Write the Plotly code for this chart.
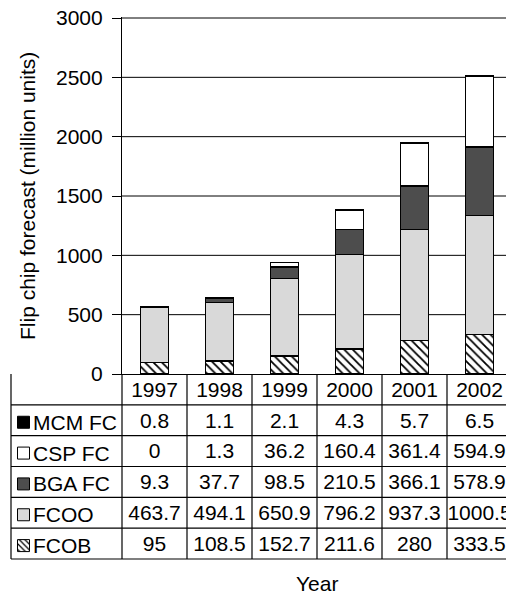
import plotly.graph_objects as go

# ---------------- data ----------------
years = [1997, 1998, 1999, 2000, 2001, 2002]
mcm_fc = [0.8, 1.1, 2.1, 4.3, 5.7, 6.5]
csp_fc = [0, 1.3, 36.2, 160.4, 361.4, 594.9]
bga_fc = [9.3, 37.7, 98.5, 210.5, 366.1, 578.9]
fcoo = [463.7, 494.1, 650.9, 796.2, 937.3, 1000.5]
fcob = [95, 108.5, 152.7, 211.6, 280, 333.5]
series_names = ["MCM FC", "CSP FC", "BGA FC", "FCOO", "FCOB"]  # table order
y_ticks = [0, 500, 1000, 1500, 2000, 2500, 3000]
y_title = "Flip chip forecast (million units)"
x_title = "Year"

data = {"MCM FC": mcm_fc, "CSP FC": csp_fc, "BGA FC": bga_fc, "FCOO": fcoo, "FCOB": fcob}
styles = {
    "FCOB": ("white", "\\"),
    "FCOO": ("#d9d9d9", ""),
    "BGA FC": ("#4d4d4d", ""),
    "CSP FC": ("white", ""),
    "MCM FC": ("black", ""),
}

# ---------------- geometry ----------------
W, H = 506, 595
FONT = "Liberation Sans, Arial, sans-serif"
FS = 21
CAT_PX = 65.0
AX_LEFT_PX = 122
BARGAP = 0.565
x_dom0 = AX_LEFT_PX / W
x_range = [years[0] - 0.5, years[0] - 0.5 + (W - AX_LEFT_PX) / CAT_PX]
ppu = (1 - x_dom0) / (x_range[1] - x_range[0])  # paper per unit
x2_range = [x_range[0] - x_dom0 / ppu, x_range[1]]


def px_to_x2(px):
    return x2_range[0] + (px / W) / ppu


PLOT_TOP, PLOT_BOT = 18, 374
TBL_BOT = 559
plot_px = PLOT_BOT - PLOT_TOP
y_max = y_ticks[-1] * (1 + 1.0 / plot_px)  # 1px headroom for top gridline
y_dom = [1 - PLOT_BOT / H, 1 - (PLOT_TOP - 1) / H]
row_px = (TBL_BOT - PLOT_BOT) / 6
pad = 0.1
# overlay axis y2 spans table + plot; rows are 0..6, plot values sit above 6
y2_dom = [1 - (TBL_BOT + pad * row_px) / H, 1 - (PLOT_TOP - 1) / H]
y2_range = [-pad, 6 + (plot_px + 1) / row_px]
txt_off = 2.0 / row_px


def val_to_y2(v):
    return 6 + (v / y_ticks[-1]) * plot_px / row_px


fig = go.Figure()

# ---------------- stacked bars ----------------
for name in ["FCOB", "FCOO", "BGA FC", "CSP FC", "MCM FC"]:
    color, pat = styles[name]
    marker = dict(color=color, line=dict(color="black", width=1.4))
    if pat:
        marker["pattern"] = dict(shape=pat, fgcolor="black", bgcolor="white",
                                 size=6, solidity=0.3)
    fig.add_trace(go.Bar(x=years, y=data[name], name=name, marker=marker,
                         xaxis="x", yaxis="y", showlegend=False))

# ---------------- horizontal gridlines, interrupted where a bar stands in front ----------------
totals = [sum(data[n][i] for n in series_names) for i in range(len(years))]
half_w = (1 - BARGAP) / 2
grid_style = dict(color="black", width=1)
for t in y_ticks[1:]:
    yv = val_to_y2(t)
    cur = x_range[0]
    for yr, tot in zip(years, totals):
        if tot >= t:
            fig.add_shape(type="line", xref="x2", yref="y2", x0=cur, x1=yr - half_w,
                          y0=yv, y1=yv, line=grid_style)
            cur = yr + half_w
    fig.add_shape(type="line", xref="x2", yref="y2", x0=cur, x1=x_range[1] + 1,
                  y0=yv, y1=yv, line=grid_style)

# ---------------- table text ----------------
tx, ty, tt = [], [], []
for yr in years:
    tx.append(yr); ty.append(5.5 - txt_off); tt.append(str(yr))
for r, name in enumerate(series_names):
    for yr, v in zip(years, data[name]):
        tx.append(yr); ty.append(4.5 - r - txt_off); tt.append(f"{v:g}")
fig.add_trace(go.Scatter(x=tx, y=ty, text=tt, mode="text",
                         textposition="middle center",
                         textfont=dict(family=FONT, size=FS, color="black"),
                         xaxis="x2", yaxis="y2", showlegend=False,
                         hoverinfo="skip", cliponaxis=False))

# ---------------- legend swatches in table ----------------
sw_cx = px_to_x2(23.5)
sw_hw = 6 / CAT_PX
sw_hh = 6 / row_px
for r, name in enumerate(series_names):
    color, pat = styles[name]
    cy = 4.5 - r - txt_off
    kw = dict(x=[sw_cx - sw_hw, sw_cx + sw_hw, sw_cx + sw_hw, sw_cx - sw_hw, sw_cx - sw_hw],
              y=[cy - sw_hh, cy - sw_hh, cy + sw_hh, cy + sw_hh, cy - sw_hh],
              mode="lines", fill="toself", fillcolor=color,
              line=dict(color="black", width=1),
              xaxis="x2", yaxis="y2", showlegend=False, hoverinfo="skip")
    if pat:
        kw["fillpattern"] = dict(shape=pat, fgcolor="black", bgcolor="white",
                                 size=4, solidity=0.3)
    fig.add_trace(go.Scatter(**kw))
    fig.add_annotation(x=px_to_x2(31), y=cy, xref="x2", yref="y2", text=name,
                       showarrow=False, xanchor="left", yanchor="middle",
                       font=dict(family=FONT, size=FS, color="black"))

# ---------------- table grid lines ----------------
left_edge = px_to_x2(11)
line_style = dict(color="black", width=1.2)
for k in range(6):
    fig.add_shape(type="line", xref="x2", yref="y2", x0=left_edge, x1=x2_range[1] + 1,
                  y0=k, y1=k, line=line_style)
for xv in [left_edge] + [yr - 0.5 for yr in years] + [years[-1] + 0.5]:
    fig.add_shape(type="line", xref="x2", yref="y2", x0=xv, x1=xv, y0=0, y1=6,
                  line=line_style)

# ---------------- titles ----------------
fig.add_annotation(xref="paper", yref="paper", x=28 / W, y=1 - 196 / H, text=y_title,
                   textangle=-90, showarrow=False, xanchor="center", yanchor="middle",
                   font=dict(family=FONT, size=FS, color="black"))
fig.add_annotation(xref="x", yref="paper", x=(years[0] + years[-1]) / 2, y=1 - 583 / H,
                   text=x_title, showarrow=False, xanchor="center", yanchor="middle",
                   font=dict(family=FONT, size=FS, color="black"))

fig.update_layout(
    template="none",
    width=W, height=H, margin=dict(l=0, r=0, t=0, b=0, pad=0, autoexpand=False),
    paper_bgcolor="white", plot_bgcolor="rgba(0,0,0,0)",
    barmode="stack", bargap=BARGAP, showlegend=False,
    font=dict(family=FONT, size=FS, color="black"),
    xaxis=dict(domain=[x_dom0, 1], range=x_range, type="linear",
               showticklabels=False, showgrid=False, zeroline=False,
               showline=True, linecolor="black", linewidth=1.2, ticks="",
               anchor="y", fixedrange=True, automargin=False),
    yaxis=dict(domain=y_dom, range=[0, y_max], tickmode="array", tickvals=y_ticks,
               showgrid=False,
               showline=True, linecolor="black", linewidth=1.2, zeroline=False,
               ticks="outside", ticklen=9, tickcolor="black", tickwidth=1.2,
               ticklabelstandoff=5,
               tickfont=dict(family=FONT, size=FS, color="black"),
               anchor="x", fixedrange=True, automargin=False),
    xaxis2=dict(domain=[0, 1], range=x2_range, visible=False, anchor="y2",
                fixedrange=True, automargin=False),
    yaxis2=dict(domain=y2_dom, range=y2_range, visible=False, anchor="x2",
                fixedrange=True, automargin=False),
)

fig.write_html("out.html")
